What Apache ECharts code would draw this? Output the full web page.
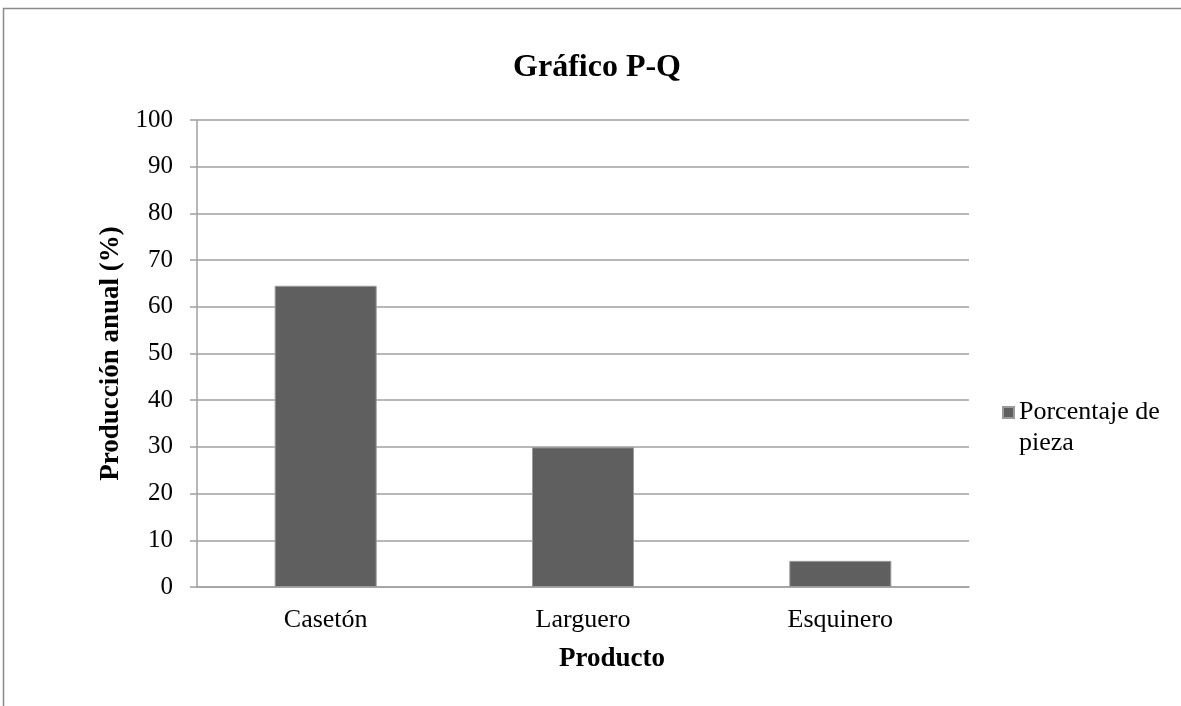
<!DOCTYPE html>
<html>
<head>
<meta charset="utf-8">
<script src="https://cdn.jsdelivr.net/npm/echarts@6/dist/echarts.min.js"></script>
<style>
  html, body { margin: 0; padding: 0; background: #fff; }
  #chart { width: 1181px; height: 706px; }
</style>
</head>
<body>
<div id="chart"></div>
<script>
// Productos y su porcentaje de la producción anual
const categories = ['Casetón', 'Larguero', 'Esquinero'];
const porcentajePieza = [64.5, 29.9, 5.6];
const yTicks = [0, 10, 20, 30, 40, 50, 60, 70, 80, 90, 100];

const serif = '"Liberation Serif", "Times New Roman", serif';

const chart = echarts.init(document.getElementById('chart'), null, { renderer: 'canvas' });

chart.setOption({
  backgroundColor: '#ffffff',
  animation: false,
  title: {
    text: 'Gráfico P-Q',
    left: 592,
    top: 47,
    textAlign: 'center',
    textStyle: { fontFamily: serif, fontSize: 32, fontWeight: 'bold', color: '#000' }
  },
  graphic: [{
    type: 'rect',
    shape: { x: 3.5, y: 8.5, width: 1400, height: 900 },
    style: { fill: 'none', stroke: '#8a8a8a', lineWidth: 1.5 },
    silent: true
  }],
  legend: {
    left: 997,
    top: 361,
    icon: 'rect',
    itemWidth: 11,
    itemHeight: 11,
    // leading empty line keeps the first text line level with the marker
    formatter: () => '\nPorcentaje de\npieza',
    textStyle: { fontFamily: serif, fontSize: 26, color: '#000', lineHeight: 31 },
    data: ['Porcentaje de pieza']
  },
  grid: { left: 197, right: 212, top: 120, bottom: 119 },
  xAxis: {
    type: 'category',
    data: categories,
    name: 'Producto',
    nameLocation: 'middle',
    nameGap: 59,
    nameTextStyle: { fontFamily: serif, fontSize: 27, fontWeight: 'bold', color: '#000', padding: [0, 0, 0, 58] },
    axisLine: { show: true, lineStyle: { color: '#a0a0a0', width: 1.5 } },
    axisTick: { show: false },
    axisLabel: { fontFamily: serif, fontSize: 26, color: '#000', margin: 20 }
  },
  yAxis: {
    type: 'value',
    min: yTicks[0],
    max: yTicks[yTicks.length - 1],
    interval: 10,
    name: 'Producción anual (%)',
    nameLocation: 'middle',
    nameGap: 67,
    nameTextStyle: { fontFamily: serif, fontSize: 27, fontWeight: 'bold', color: '#000' },
    axisLine: { show: true, lineStyle: { color: '#a0a0a0', width: 1.5 } },
    axisTick: { show: true, length: 7, lineStyle: { color: '#a0a0a0', width: 1.5 } },
    axisLabel: { fontFamily: serif, fontSize: 25, color: '#000', margin: 24 },
    splitLine: { show: true, lineStyle: { color: '#a0a0a0', width: 1.5 } }
  },
  series: [{
    name: 'Porcentaje de pieza',
    type: 'bar',
    data: porcentajePieza,
    barWidth: 102,
    itemStyle: { color: '#5f5f5f', borderColor: '#9a9a9a', borderWidth: 1 }
  }]
});
</script>
</body>
</html>
